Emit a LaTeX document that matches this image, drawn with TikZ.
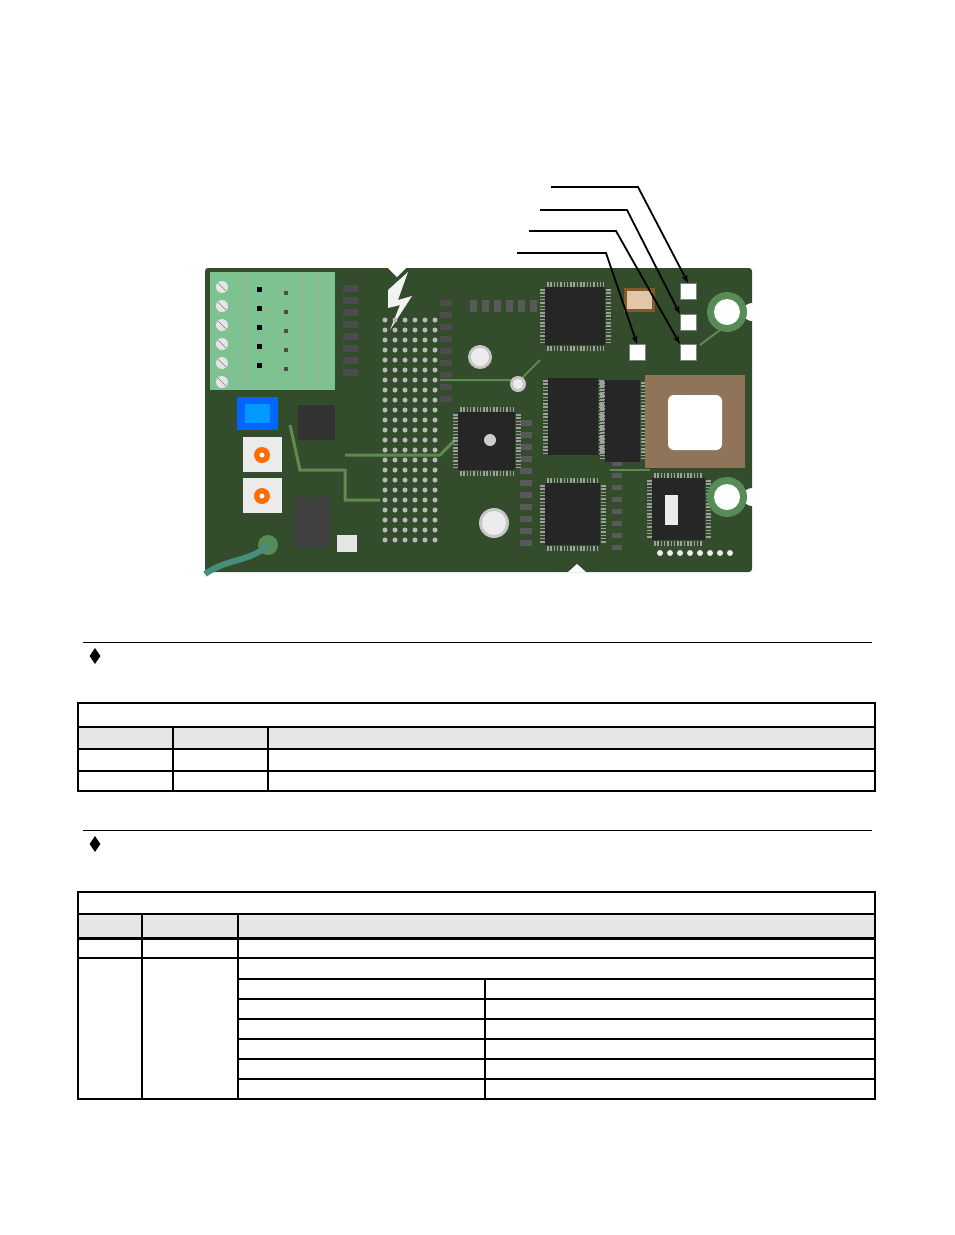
\documentclass[tikz,border=0pt]{standalone}
\usetikzlibrary{arrows.meta,shapes.geometric}
\definecolor{pcb}{RGB}{50,76,44}
\definecolor{pcblight}{RGB}{96,138,80}
\definecolor{term}{RGB}{126,194,146}
\definecolor{hdrgray}{RGB}{230,230,232}
\definecolor{cable}{RGB}{72,142,124}
\definecolor{ring}{RGB}{88,140,86}
\tikzset{
  led/.style={draw=gray,fill=white,minimum size=16pt,inner sep=0pt},
  lead/.style={line width=1.8pt,-{Stealth[length=8pt,width=6pt]}},
  chip/.style={fill=black!85},
  pinrow/.style={gray!75,line width=5pt,dash pattern=on 1.5pt off 1.8pt},
  bullet/.style={diamond,fill=black,inner sep=0pt,minimum width=11pt,minimum height=16pt},
  thickrule/.style={line width=2.5pt},
  thinrule/.style={line width=1.3pt}
}
\begin{document}
\begin{tikzpicture}[x=1pt,y=-1pt]
    \useasboundingbox (0,0) rectangle (954,1235);

    % 电路板
    \fill[pcb,rounded corners=3pt] (205,268) rectangle (752,572);
    \fill[white] (752,312) circle (9);
    \fill[white] (752,497) circle (9);
    \fill[white] (388,268) -- (397,277) -- (406,268) -- cycle;
    \fill[white] (568,572) -- (577,564) -- (586,572) -- cycle;
    \draw[pcblight,line width=3pt] (290,425) -- (300,470) -- (345,470) -- (345,500) -- (380,500);
    \draw[pcblight,line width=3pt] (345,455) -- (440,455) -- (455,440);
    \draw[pcblight,line width=2pt] (440,380) -- (520,380) -- (540,360);
    \draw[pcblight,line width=2pt] (610,470) -- (640,470) -- (650,470);
    \draw[pcblight,line width=2pt] (700,345) -- (720,330);

    % 接线端子
    \fill[term] (210,272) rectangle (335,390);
    \foreach \y in {287,306,325,344,363,382}
    {\fill[black!10] (222,\y) circle (6); \draw[black!50] (218,\y-4) -- (226,\y+4);}
    \foreach \x in {245,300,318}
    \draw[black!35] (\x,272) -- (\x,390);
    \foreach \y in {287,306,325,344,363}
    {\fill[black] (257,\y) rectangle (262,\y+5); \fill[black!70] (284,\y+4) rectangle (288,\y+8);}

    % 电位器和拨码开关
    \fill[blue!60!cyan] (237,397) rectangle (278,430);
    \fill[blue!40!cyan] (245,404) rectangle (270,423);
    \foreach \y in {437,478}
    {\fill[black!8] (243,\y) rectangle (282,\y+35); \fill[orange!85!red] (262,\y+18) circle (8); \fill[white] (262,\y+18) circle (2.5);}
    \fill[black!75] (295,497) rectangle (330,548);
    \fill[black!80] (298,405) rectangle (335,440);
    \fill[black!10] (337,535) rectangle (357,552);

    % 电缆
    \fill[ring] (268,545) circle (10);
    \draw[cable,line width=6pt] (268,545) .. controls (250,562) and (228,558) .. (205,574);

    % 小元件
    \foreach \y in {285,297,...,380}
    \fill[black!70] (343,\y) rectangle (358,\y+7);
    \foreach \y in {300,312,...,400}
    \fill[black!70] (440,\y) rectangle (452,\y+6);
    \foreach \x in {470,482,...,530}
    \fill[black!65] (\x,300) rectangle (\x+7,312);
    \foreach \y in {420,432,...,540}
    {\fill[black!65] (520,\y) rectangle (532,\y+6); \fill[black!65] (612,\y+5) rectangle (622,\y+10);}

    % 排针
    \fill[white!90!gray] (388,290) -- (408,272) -- (398,300) -- (412,296) -- (390,330) -- (400,305) -- (388,308) -- cycle;
    \foreach \x in {385,395,...,435}
    \foreach \y in {320,330,...,540}
    \fill[gray!55] (\x,\y) circle (2.5);

    % 芯片
    \draw[pinrow] (547,284) -- (604,284);
    \draw[pinrow] (547,348) -- (604,348);
    \draw[pinrow] (542,289) -- (542,343);
    \draw[pinrow] (608,289) -- (608,343);
    \fill[chip] (545,287) rectangle (605,345);
    \draw[pinrow] (460,409) -- (513,409);
    \draw[pinrow] (460,473) -- (513,473);
    \draw[pinrow] (455,414) -- (455,468);
    \draw[pinrow] (518,414) -- (518,468);
    \fill[chip] (458,412) rectangle (515,470);
    \fill[gray!40] (490,440) circle (6);
    \draw[pinrow] (545,380) -- (545,453);
    \draw[pinrow] (601,380) -- (601,453);
    \fill[chip] (548,378) rectangle (598,455);
    \draw[pinrow] (602,382) -- (602,460);
    \draw[pinrow] (643,382) -- (643,460);
    \fill[chip] (605,380) rectangle (640,462);
    \draw[pinrow] (547,480) -- (598,480);
    \draw[pinrow] (547,548) -- (598,548);
    \draw[pinrow] (542,485) -- (542,543);
    \draw[pinrow] (603,485) -- (603,543);
    \fill[chip] (545,483) rectangle (600,545);
    \draw[pinrow] (654,475) -- (703,475);
    \draw[pinrow] (654,543) -- (703,543);
    \draw[pinrow] (649,480) -- (649,538);
    \draw[pinrow] (708,480) -- (708,538);
    \fill[chip] (652,478) rectangle (705,540);
    \fill[white!85!gray] (665,495) rectangle (678,525);

    % 插座
    \fill[brown!55!black!75] (645,375) rectangle (745,468);
    \fill[white,rounded corners=6pt] (668,395) rectangle (722,450);

    % 晶振和电容
    \fill[brown!70!black] (624,288) rectangle (655,312);
    \fill[brown!45] (627,291) rectangle (652,309);
    \foreach \x/\y/\r in {480/357/12,518/384/8,494/523/15}
    {\fill[gray!45] (\x,\y) circle (\r); \fill[gray!15] (\x,\y) circle (\r-3);}

    % 安装孔
    \foreach \y in {312,497}
    {\fill[ring] (727,\y) circle (20); \fill[white] (727,\y) circle (13);}
    \foreach \x in {660,670,...,730}
    \fill[white!85!gray] (\x,553) circle (3);

    % 指示灯
    \node[led] (ledA) at (688,291) {};
    \node[led] (ledB) at (688,322) {};
    \node[led] (ledC) at (688,352) {};
    \node[led] (ledD) at (637,352) {};

    % 引线
    \coordinate (s1) at (551,187); \coordinate (k1) at (638,187);
    \coordinate (s2) at (540,210); \coordinate (k2) at (627,210);
    \coordinate (s3) at (529,231); \coordinate (k3) at (616,231);
    \coordinate (s4) at (517,253); \coordinate (k4) at (606,253);
    \draw[lead] (s1) -- (k1) -- (ledA.north);
    \draw[lead] (s2) -- (k2) -- (ledB.north west);
    \draw[lead] (s3) -- (k3) -- (ledC.north west);
    \draw[lead] (s4) -- (k4) -- (ledD.north);

    % 表一
    \coordinate (r1a) at (83,642); \coordinate (r1b) at (872,642);
    \draw[line width=1pt] (r1a) -- (r1b);
    \node[bullet] (d1) at (95,656) {};
    \fill[hdrgray] (78,727) rectangle (875,749);
    \draw[thickrule] (78,703) rectangle (875,791);
    \draw[thickrule] (78,727) -- (875,727);
    \draw[thickrule] (78,749) -- (875,749);
    \draw[thinrule] (78,771) -- (875,771);
    \foreach \x in {173,268}
    \draw[thinrule] (\x,727) -- (\x,791);

    % 表二
    \coordinate (r2a) at (83,830); \coordinate (r2b) at (872,830);
    \draw[line width=1pt] (r2a) -- (r2b);
    \node[bullet] (d2) at (95,844) {};
    \fill[hdrgray] (78,914) rectangle (875,938);
    \draw[thickrule] (78,892) rectangle (875,1099);
    \draw[thickrule] (78,914) -- (875,914);
    \draw[line width=3pt] (78,938) -- (875,938);
    \draw[thinrule] (78,958) -- (875,958);
    \foreach \y in {979,999,1019,1039,1059,1079}
    \draw[thinrule] (238,\y) -- (875,\y);
    \foreach \x in {142,238}
    \draw[thinrule] (\x,914) -- (\x,1099);
    \draw[thinrule] (485,979) -- (485,1099);
\end{tikzpicture}
\end{document}
